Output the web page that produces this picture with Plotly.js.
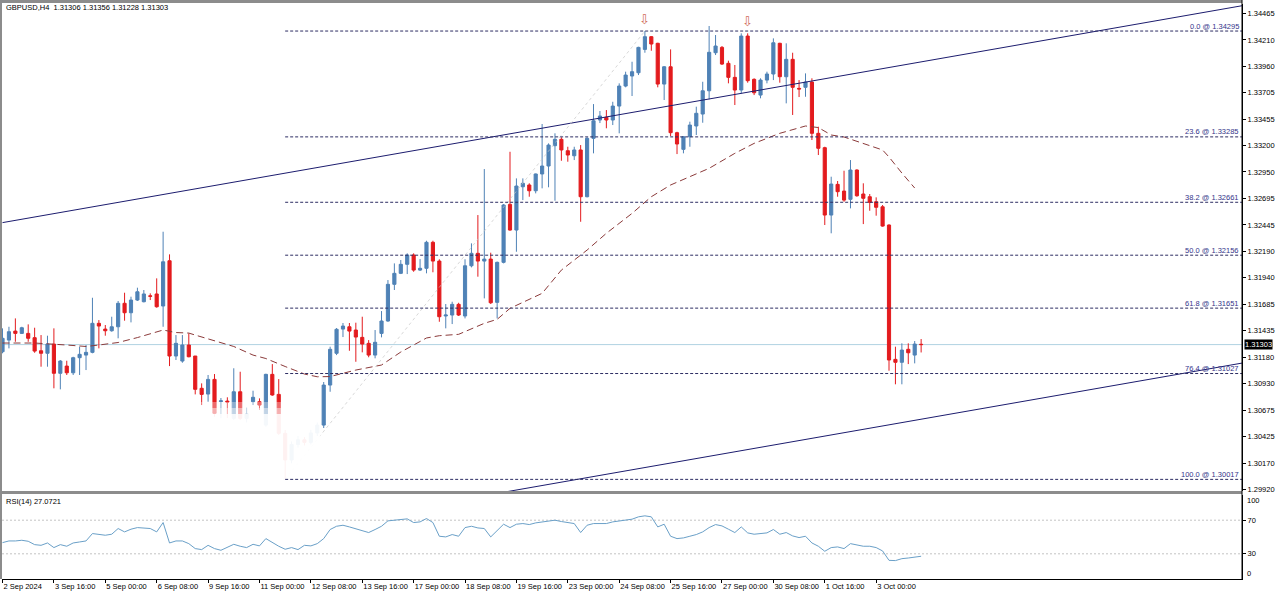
<!DOCTYPE html>
<html><head><meta charset="utf-8">
<script src="https://cdn.plot.ly/plotly-3.0.1.min.js"></script>
<style>html,body{margin:0;padding:0;background:#fff}#chart{width:1280px;height:596px}</style>
</head><body><div id="chart"></div>
<script>
// ---- DATA (GBPUSD H4, bar index 0 = 2 Sep 2024 08:00) ----
const openP = [1.31235,1.31346,1.31432,1.31410,1.31410,1.31369,1.31244,1.31220,1.31308,1.31029,
1.31098,1.31034,1.31178,1.31203,1.31229,1.31506,1.31451,1.31435,1.31473,1.31697,
1.31607,1.31728,1.31712,1.31768,1.31786,1.31671,1.32103,1.31194,1.31146,1.31299,
1.31194,1.30886,1.30831,1.30971,1.30760,1.30764,1.30599,1.30853,1.30599,1.30758,
1.30758,1.30535,1.31019,1.30828,1.30456,1.30202,1.30350,1.30395,1.30370,1.30460,
1.30535,1.30917,1.31220,1.31451,1.31473,1.31442,1.31372,1.31315,1.31203,1.31410,
1.31528,1.31878,1.31983,1.32069,1.32158,1.32014,1.32031,1.32279,1.32100,1.31576,
1.31585,1.31687,1.31576,1.32055,1.32174,1.32100,1.32119,1.31706,1.32088,1.32641,
1.32396,1.32809,1.32826,1.32771,1.32931,1.33007,1.33201,1.33262,1.33153,1.33105,
1.33160,1.32714,1.33271,1.33446,1.33472,1.33446,1.33579,1.33770,1.33866,1.33897,
1.34120,1.34241,1.34178,1.33789,1.33954,1.33325,1.33166,1.33286,1.33389,1.33503,
1.33725,1.34088,1.34139,1.33987,1.33853,1.33732,1.34247,1.33834,1.33684,1.33827,
1.33885,1.34178,1.33859,1.34025,1.33748,1.33758,1.33808,1.33319,1.33182,1.32539,
1.32832,1.32768,1.32689,1.32969,1.32740,1.32714,1.32666,1.32618,1.32444,1.31162,
1.31134,1.31258,1.31203,1.31306];
const highP = [1.31458,1.31473,1.31553,1.31473,1.31496,1.31464,1.31394,1.31388,1.31458,1.31156,
1.31149,1.31187,1.31283,1.31299,1.31750,1.31537,1.31490,1.31569,1.31719,1.31798,
1.31760,1.31846,1.31824,1.31792,1.31935,1.32380,1.32164,1.31394,1.31394,1.31410,
1.31194,1.30933,1.31013,1.31022,1.30793,1.30800,1.31077,1.31044,1.30700,1.30863,
1.30790,1.31025,1.31117,1.30974,1.30488,1.30380,1.30430,1.30420,1.30490,1.30560,
1.30946,1.31283,1.31461,1.31509,1.31509,1.31512,1.31569,1.31346,1.31442,1.31623,
1.31919,1.32078,1.32110,1.32174,1.32174,1.32119,1.32294,1.32294,1.32117,1.31690,
1.31712,1.31702,1.32117,1.32269,1.32539,1.32978,1.32180,1.32095,1.32644,1.33143,
1.32889,1.32889,1.32842,1.32935,1.33408,1.33223,1.33319,1.33281,1.33191,1.33191,
1.33207,1.33281,1.33598,1.33532,1.33541,1.33620,1.33796,1.33907,1.34002,1.34145,
1.34295,1.34247,1.34183,1.33961,1.34120,1.33334,1.33293,1.33430,1.33573,1.33811,
1.34343,1.34257,1.34152,1.34012,1.33971,1.34273,1.34273,1.33844,1.33844,1.33907,
1.34225,1.34183,1.34178,1.34088,1.33827,1.33891,1.33844,1.33382,1.33191,1.32905,
1.32864,1.32962,1.33064,1.32975,1.32842,1.32740,1.32708,1.32635,1.32450,1.31283,
1.31315,1.31315,1.31337,1.31356];
const lowP = [1.31220,1.31267,1.31330,1.31404,1.31330,1.31225,1.31092,1.31092,1.30886,1.30876,
1.31013,1.31013,1.31013,1.31060,1.31220,1.31267,1.31388,1.31426,1.31363,1.31531,
1.31515,1.31719,1.31706,1.31728,1.31655,1.31473,1.31098,1.31156,1.31130,1.31182,
1.30828,1.30726,1.30758,1.30615,1.30600,1.30602,1.30583,1.30583,1.30560,1.30726,
1.30680,1.30519,1.30815,1.30440,1.30017,1.30170,1.30320,1.30340,1.30350,1.30430,
1.30507,1.30853,1.31203,1.31375,1.31244,1.31139,1.31229,1.31182,1.31172,1.31372,
1.31521,1.31824,1.31976,1.31976,1.31998,1.32005,1.31983,1.31993,1.31521,1.31458,
1.31499,1.31576,1.31553,1.32040,1.31951,1.31744,1.31690,1.31553,1.32078,1.32390,
1.32189,1.32682,1.32714,1.32746,1.32794,1.32804,1.32676,1.33057,1.33048,1.33064,
1.32475,1.32708,1.33128,1.33417,1.33367,1.33398,1.33319,1.33758,1.33675,1.33875,
1.34088,1.34107,1.33758,1.33637,1.33293,1.33121,1.33128,1.33191,1.33303,1.33420,
1.33643,1.34066,1.33971,1.33796,1.33589,1.33700,1.33802,1.33684,1.33653,1.33796,
1.33827,1.33802,1.33605,1.33494,1.33665,1.33668,1.33255,1.33112,1.32444,1.32365,
1.32714,1.32666,1.32603,1.32714,1.32453,1.32580,1.32533,1.32428,1.31054,1.30924,
1.30924,1.31117,1.31124,1.31228];
const closeP = [1.31363,1.31426,1.31410,1.31464,1.31363,1.31241,1.31220,1.31308,1.31029,1.31146,
1.31034,1.31178,1.31210,1.31229,1.31506,1.31480,1.31435,1.31473,1.31697,1.31607,
1.31728,1.31807,1.31786,1.31764,1.31664,1.32093,1.31194,1.31315,1.31299,1.31187,
1.30876,1.30828,1.30971,1.30647,1.30766,1.30755,1.30853,1.30599,1.30640,1.30800,
1.30726,1.31019,1.30822,1.30456,1.30202,1.30350,1.30395,1.30370,1.30460,1.30535,
1.30917,1.31258,1.31449,1.31480,1.31432,1.31375,1.31308,1.31203,1.31325,1.31528,
1.31878,1.31983,1.32069,1.32158,1.32014,1.32031,1.32279,1.32100,1.31569,1.31585,
1.31687,1.31585,1.32055,1.32174,1.32100,1.32119,1.31702,1.32088,1.32635,1.32396,
1.32816,1.32842,1.32771,1.32931,1.33007,1.33207,1.33262,1.33160,1.33112,1.33160,
1.32714,1.33271,1.33439,1.33484,1.33446,1.33579,1.33770,1.33875,1.33907,1.34139,
1.34241,1.34171,1.33789,1.33954,1.33325,1.33217,1.33286,1.33398,1.33510,1.33725,
1.34092,1.34152,1.33980,1.33853,1.33732,1.34247,1.33821,1.33706,1.33827,1.33885,
1.34183,1.33859,1.34025,1.33758,1.33742,1.33808,1.33319,1.33176,1.32539,1.32835,
1.32762,1.32682,1.32969,1.32723,1.32699,1.32660,1.32613,1.32434,1.31156,1.31134,
1.31251,1.31225,1.31308,1.31303];
const rsiVal = [43.3,45.3,45.3,46.1,44.9,40.9,40.1,42.9,37.4,40.9,
39.0,42.9,44.1,45.3,54.1,52.9,52.1,53.3,60.1,56.1,
59.3,61.2,60.4,60.1,56.1,67.2,42.9,45.3,45.3,42.1,
36.2,35.0,40.1,36.2,34.2,38.2,41.3,39.0,37.4,41.3,
39.4,48.1,43.3,39.0,35.4,37.4,35.0,40.1,39.4,42.1,
48.1,58.9,62.8,64.0,62.0,59.7,58.1,55.3,58.9,62.8,
69.2,70.0,70.8,71.6,67.2,68.0,72.0,67.2,50.9,50.1,
52.9,50.9,61.2,62.8,60.8,60.1,50.1,58.1,65.2,61.2,
65.2,66.0,64.8,66.8,67.6,68.8,70.0,68.4,67.2,66.0,
55.3,64.0,66.0,66.0,66.0,68.0,69.2,70.8,71.2,74.0,
75.2,74.0,62.0,65.2,50.9,48.1,48.9,50.9,52.9,56.1,
61.2,64.8,63.2,59.3,55.3,62.0,54.9,53.3,54.1,54.9,
58.9,53.3,55.3,51.3,49.3,50.9,42.9,39.0,33.0,37.4,
38.2,36.2,42.1,40.1,39.0,39.0,37.4,33.4,22.2,21.9,
24.2,25.0,26.2,27.0721];
// moving average, read at selected bars
const maIdx = [0,5,10,13,15,18,21,25,27,29,30,33,36,39,41,44,47,49,51,55,59,62,66,68,71,75,77,79,84,87,91,94,98,101,104,110,114,117,121,125,127,129,131,137,138,140,142];
const maVal = [1.31318,1.31318,1.31299,1.31285,1.31299,1.31323,1.31370,1.31442,1.31418,1.31413,1.31394,1.31342,1.31285,1.31203,1.31170,1.31094,1.31022,1.30996,1.30998,1.31060,1.31108,1.31232,1.31366,1.31388,1.31401,1.31506,1.31544,1.31649,1.31792,1.32014,1.32205,1.32365,1.32555,1.32714,1.32826,1.32985,1.33128,1.33223,1.33319,1.33389,1.33374,1.33303,1.33284,1.33160,1.33093,1.32940,1.32797];
// channel trend lines (anchor bar, price)
const upperChX = [0, 193], upperChY = [1.32467, 1.34537];
const lowerChX = [60, 193], lowerChY = [1.29701, 1.31127];
// fibonacci retracement
const fibPct = ['0.0','23.6','38.2','50.0','61.8','76.4','100.0'];
const fibPrice = [1.34295,1.33285,1.32661,1.32156,1.31651,1.31027,1.30017];
const fibFromBar = 44, fibToBar = 100;
// fractal arrows
const arrowBars = [100, 116];
// axis ticks
const xTickIdx = [0,8,16,24,32,40,48,56,64,72,80,88,96,104,112,120,128,136];
const xTickText = ['2 Sep 2024','3 Sep 16:00','5 Sep 00:00','6 Sep 08:00','9 Sep 16:00','11 Sep 00:00','12 Sep 08:00','13 Sep 16:00','17 Sep 00:00','18 Sep 08:00','19 Sep 16:00','23 Sep 00:00','24 Sep 08:00','25 Sep 16:00','27 Sep 00:00','30 Sep 08:00','1 Oct 16:00','3 Oct 00:00'];
const priceTicks = [1.34465,1.34210,1.33960,1.33705,1.33455,1.33200,1.32950,1.32695,1.32445,1.32190,1.31940,1.31685,1.31435,1.31180,1.30930,1.30675,1.30425,1.30170,1.29920];
const rsiLevels = [70, 30];

// ---- DRAW ----
const N = closeP.length;
const idx = Array.from({length: N}, (_, i) => i);
const last = N - 1;
const xRange = [-0.08, 192.95];
const priceRange = [1.29906, 1.34553];
const FONT = 'Liberation Sans, Arial, sans-serif';
const FS = 7.5;
const BULL = '#4f82b6', BEAR = '#e31b1e';
const NAVY = '#1c1c6e', FIBTXT = '#34348a', GRAY = '#8c8c8c';

const traces = [
  {type: 'candlestick', x: idx, open: openP, high: highP, low: lowP, close: closeP,
   xaxis: 'x', yaxis: 'y', whiskerwidth: 0, hoverinfo: 'skip',
   increasing: {line: {color: BULL, width: 1}, fillcolor: BULL},
   decreasing: {line: {color: BEAR, width: 1}, fillcolor: BEAR}},
  {type: 'scatter', mode: 'lines', x: maIdx, y: maVal, xaxis: 'x', yaxis: 'y',
   line: {color: '#8b3a3a', width: 1, dash: '7px,4px'}, hoverinfo: 'skip'},
  {type: 'scatter', mode: 'lines', x: upperChX, y: upperChY, xaxis: 'x', yaxis: 'y',
   line: {color: NAVY, width: 1}, hoverinfo: 'skip'},
  {type: 'scatter', mode: 'lines', x: lowerChX, y: lowerChY, xaxis: 'x', yaxis: 'y',
   line: {color: NAVY, width: 1}, hoverinfo: 'skip'},
  {type: 'scatter', mode: 'lines', x: [fibFromBar, fibToBar], y: [fibPrice[fibPrice.length-1], fibPrice[0]],
   xaxis: 'x', yaxis: 'y', line: {color: 'rgba(200,200,200,0.7)', width: 1, dash: 'dot'}, hoverinfo: 'skip'},
  {type: 'scatter', mode: 'lines', x: idx, y: rsiVal, xaxis: 'x', yaxis: 'y2',
   line: {color: '#6aa0c8', width: 1}, hoverinfo: 'skip'}
];

const shapes = [];
// current price line
shapes.push({type: 'line', layer: 'below', xref: 'paper', x0: 0, x1: 1, yref: 'y', y0: closeP[last], y1: closeP[last],
  line: {color: '#b0d2e2', width: 1}});
// faded watermark region (soft top edge)
[[1.30755, 1.30698, 0.35], [1.30698, 1.30640, 0.65], [1.30640, 1.2985, 0.94]].forEach(r =>
  shapes.push({type: 'rect', layer: 'above', xref: 'x', x0: 2.5, x1: 49.5, yref: 'y', y0: r[1], y1: r[0],
    fillcolor: 'rgba(255,255,255,' + r[2] + ')', line: {width: 0}}));
// fib levels
fibPrice.forEach(p => shapes.push({type: 'line', layer: 'above', xref: 'x', x0: fibFromBar, x1: xRange[1], yref: 'y', y0: p, y1: p,
  line: {color: '#2c2c62', width: 1, dash: '3px,2px'}}));
// RSI levels
rsiLevels.forEach(v => shapes.push({type: 'line', layer: 'below', xref: 'paper', x0: 0, x1: 1, yref: 'y2', y0: v, y1: v,
  line: {color: '#c4c4c4', width: 1, dash: '2px,2px'}}));
// frame
shapes.push({type: 'line', xref: 'paper', yref: 'paper', x0: -1/1240, x1: -1/1240, y0: 0, y1: 1 + 4/575, line: {color: GRAY, width: 2}});
shapes.push({type: 'line', xref: 'paper', yref: 'paper', x0: -2/1240, x1: 1, y0: 1 + 2.5/575, y1: 1 + 2.5/575, line: {color: GRAY, width: 3}});
shapes.push({type: 'line', xref: 'paper', yref: 'paper', x0: -2/1240, x1: 1, y0: 86.5/575, y1: 86.5/575, line: {color: GRAY, width: 3}});
shapes.push({type: 'line', xref: 'paper', yref: 'paper', x0: 1, x1: 1, y0: 0, y1: 1 + 4/575, line: {color: '#000', width: 1}});

const annotations = [];
annotations.push({xref: 'paper', yref: 'paper', x: 0, y: 1, xanchor: 'left', yanchor: 'middle', xshift: 2, yshift: -3.5,
  showarrow: false, font: {family: FONT, size: FS, color: '#000'},
  text: 'GBPUSD,H4\u00a0\u00a0' + [openP[last], highP[last], lowP[last], closeP[last]].map(v => v.toFixed(5)).join(' ')});
annotations.push({xref: 'paper', yref: 'y2', x: 0, y: 100, xanchor: 'left', yanchor: 'middle', xshift: 2, yshift: -6,
  showarrow: false, font: {family: FONT, size: FS, color: '#000'}, text: 'RSI(14) ' + rsiVal[last].toFixed(4)});
fibPct.forEach((t, k) => annotations.push({xref: 'paper', yref: 'y', x: 1, y: fibPrice[k], xanchor: 'right', yanchor: 'bottom',
  xshift: -1, yshift: -1.5, showarrow: false, font: {family: FONT, size: FS, color: FIBTXT}, text: t + ' @ ' + fibPrice[k].toFixed(5)}));
annotations.push({xref: 'paper', yref: 'y', x: 1, y: closeP[last], xanchor: 'left', yanchor: 'middle', xshift: 2,
  showarrow: false, bgcolor: '#000', borderpad: 0, height: 9, font: {family: FONT, size: FS, color: '#fff'}, text: closeP[last].toFixed(5)});
annotations.push({xref: 'paper', yref: 'y2', x: 1, y: 100, xanchor: 'left', yanchor: 'top', xshift: 3, yshift: 1,
  showarrow: false, font: {family: FONT, size: FS, color: '#000'}, text: '100'});
annotations.push({xref: 'paper', yref: 'y2', x: 1, y: 0, xanchor: 'left', yanchor: 'bottom', xshift: 3, yshift: -1,
  showarrow: false, font: {family: FONT, size: FS, color: '#000'}, text: '0'});
arrowBars.forEach(b => annotations.push({xref: 'x', yref: 'y', x: b, y: highP[b], xanchor: 'center', yanchor: 'bottom', yshift: 2,
  showarrow: false, font: {family: 'DejaVu Sans', size: 13, color: '#cf6a58'}, text: '\u21E9'}));

const axisCommon = {showgrid: false, zeroline: false, showline: true, linecolor: '#000', linewidth: 1,
  ticks: 'outside', ticklen: 3, tickwidth: 1, tickcolor: '#000', tickfont: {family: FONT, size: FS, color: '#000'}, fixedrange: true};

const layout = {
  width: 1280, height: 596, margin: {l: 2, r: 38, t: 4, b: 17, pad: 0, autoexpand: false},
  paper_bgcolor: '#fff', plot_bgcolor: '#fff', showlegend: false,
  font: {family: FONT, size: FS, color: '#000'},
  xaxis: Object.assign({}, axisCommon, {range: xRange, anchor: 'y2', tickmode: 'array', tickvals: xTickIdx, ticktext: xTickText,
    tickangle: 0, automargin: false, ticklabelposition: 'outside right', rangeslider: {visible: false}}),
  yaxis: Object.assign({}, axisCommon, {domain: [88/575, 1], range: priceRange, side: 'right', anchor: 'x', automargin: false,
    tickmode: 'array', tickvals: priceTicks, ticktext: priceTicks.map(v => v.toFixed(5))}),
  yaxis2: Object.assign({}, axisCommon, {domain: [0, 84/575], range: [0, 100], side: 'right', anchor: 'x', automargin: false,
    tickmode: 'array', tickvals: rsiLevels, ticktext: rsiLevels.map(String)}),
  shapes: shapes, annotations: annotations
};

Plotly.newPlot('chart', traces, layout, {staticPlot: true, displayModeBar: false});
</script></body></html>
